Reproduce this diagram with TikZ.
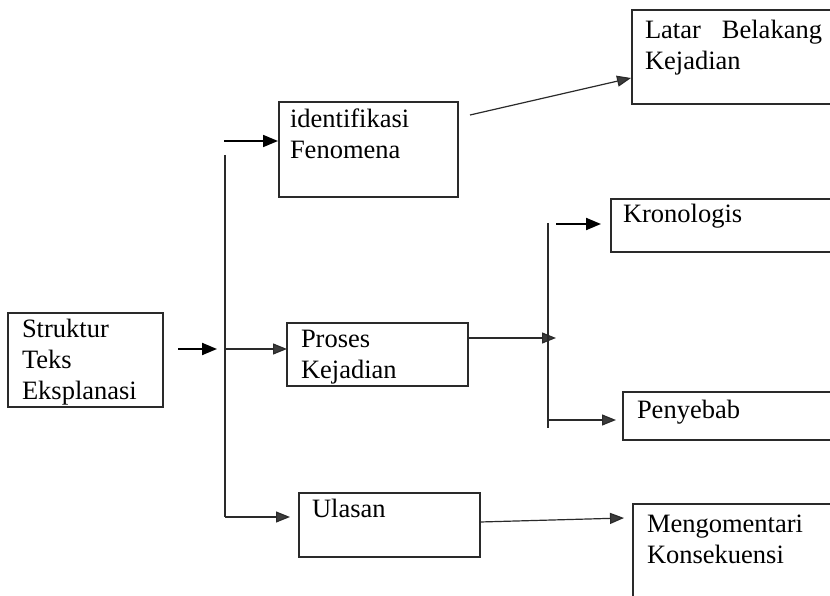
\documentclass[tikz,border=0pt]{standalone}
\usepackage{fontspec}
\setmainfont{Liberation Serif}
\usetikzlibrary{arrows.meta}
\definecolor{ink}{HTML}{2A2A2A}
\definecolor{headgray}{HTML}{3C3C3C}
\begin{document}
\begin{tikzpicture}[x=1pt,y=-1pt,
  frame/.style={draw=ink, line width=1.1pt, anchor=north west, inner sep=0pt, outer sep=0pt},
  lbl/.style={anchor=base west, inner sep=0pt, outer sep=0pt, font=\fontsize{26.5}{31}\selectfont},
  link/.style={draw=ink, line width=1.2pt, -{Triangle[length=14pt,width=11pt,fill=headgray]}},
  boldlink/.style={draw=black, line width=2pt, -{Triangle[length=15pt,width=12pt]}},
  trunk/.style={draw=ink, line width=1.3pt}]
\useasboundingbox (0,0) rectangle (830,596);
\clip (0,0) rectangle (830,596);
% boxes
\node[frame, minimum width=155pt, minimum height=94pt] (S) at (8,313) {};
\node[frame, minimum width=179pt, minimum height=95pt] (I) at (279,102) {};
\node[frame, minimum width=181pt, minimum height=63pt] (P) at (287,323) {};
\node[frame, minimum width=181pt, minimum height=64pt] (U) at (299,493) {};
\node[frame, minimum width=220pt, minimum height=94pt] (L) at (632,10) {};
\node[frame, minimum width=230pt, minimum height=53pt] (K) at (611,199) {};
\node[frame, minimum width=220pt, minimum height=48pt] (Pe) at (623,392) {};
\node[frame, minimum width=220pt, minimum height=110pt] (M) at (633,504) {};
% texts
\node[lbl] (St) at ([xshift=14pt,yshift=-24pt]S.north west) {\parbox[t]{140pt}{Struktur\\Teks\\Eksplanasi}};
\node[lbl] (It) at ([xshift=11pt,yshift=-26pt]I.north west) {\parbox[t]{165pt}{identifikasi\\Fenomena}};
\node[lbl] (Pt) at ([xshift=14pt,yshift=-24pt]P.north west) {\parbox[t]{165pt}{Proses\\Kejadian}};
\node[lbl] (Ut) at ([xshift=13pt,yshift=-24pt]U.north west) {\parbox[t]{165pt}{Ulasan}};
\node[lbl] (Lt) at ([xshift=13pt,yshift=-29pt]L.north west) {\parbox[t]{177pt}{Latar\hfill Belakang\\Kejadian}};
\node[lbl] (Kt) at ([xshift=12pt,yshift=-24pt]K.north west) {\parbox[t]{200pt}{Kronologis}};
\node[lbl] (Pet) at ([xshift=14pt,yshift=-26pt]Pe.north west) {\parbox[t]{200pt}{Penyebab}};
\node[lbl] (Mt) at ([xshift=14pt,yshift=-28pt]M.north west) {\parbox[t]{200pt}{Mengomentari\\Konsekuensi}};
% coordinates
\coordinate (s_out) at (178,349);
\coordinate (s_tip) at (217,349);
\coordinate (t1top) at (225,155);
\coordinate (t1mid) at (225,349);
\coordinate (t1bot) at (225,517);
\coordinate (i_in0) at (224,141);
\coordinate (i_tip) at (278,141);
\coordinate (u_tip) at (290,517);
\coordinate (i_out) at (470,115);
\coordinate (l_tip) at (631,78);
\coordinate (p_out) at (468,338);
\coordinate (p_tip) at (556,338);
\coordinate (t2top) at (548,223);
\coordinate (t2bot) at (548,428);
\coordinate (k_in0) at (556,224);
\coordinate (k_tip) at (601,224);
\coordinate (t2low) at (548,420);
\coordinate (pe_tip) at (616,420);
\coordinate (u_out) at (480,522);
\coordinate (m_tip) at (624,518);
% connectors
\draw[boldlink] (s_out) -- (s_tip);
\draw[trunk] (t1top) -- (t1bot);
\draw[boldlink, line width=1.7pt] (i_in0) -- (i_tip);
\draw[link] (t1mid) -- (P.west |- t1mid);
\draw[link] (t1bot) -- (u_tip);
\draw[link] (i_out) -- (l_tip);
\draw[link] (p_out) -- (p_tip);
\draw[trunk] (t2top) -- (t2bot);
\draw[boldlink] (k_in0) -- (k_tip);
\draw[link] (t2low) -- (pe_tip);
\draw[link] (u_out) -- (m_tip);
\end{tikzpicture}
\end{document}
